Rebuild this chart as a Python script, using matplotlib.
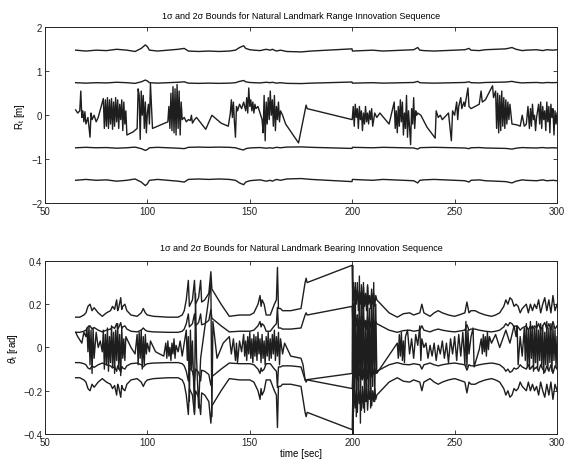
import matplotlib
matplotlib.use("Agg")
import matplotlib.pyplot as plt
import numpy as np

plt.rcParams["font.family"] = ["Liberation Sans", "DejaVu Sans"]
plt.rcParams["mathtext.fontset"] = "custom"
plt.rcParams["mathtext.rm"] = "Liberation Sans"
plt.rcParams["mathtext.it"] = "Liberation Sans:italic"

# range innovation (top panel)
range_t = [
    65.0, 66.0, 67.0, 67.5, 68.0, 68.5, 69.0, 69.5, 70.0, 71.0, 72.0, 72.5, 73.0, 74.0, 75.0, 76.0,
    78.5, 79.0, 79.5, 80.0, 80.5, 81.0, 81.5, 82.0, 82.5, 83.0, 83.5, 84.0, 84.5, 85.0, 85.5, 86.0,
    86.5, 87.0, 87.5, 88.0, 88.5, 89.0, 89.5, 90.0, 93.0, 95.0, 95.5, 96.0, 96.5, 97.0, 97.5, 98.0,
    98.5, 99.0, 99.5, 100.0, 100.5, 101.0, 101.5, 102.5, 110.0, 110.5, 111.0, 111.5, 112.0, 112.5,
    113.0, 113.5, 114.0, 114.5, 115.0, 115.5, 116.0, 116.5, 117.0, 118.0, 119.0, 120.0, 121.0, 121.5,
    122.0, 123.0, 124.0, 128.5, 131.5, 136.0, 139.5, 140.5, 141.0, 141.5, 142.0, 142.5, 143.0, 143.5,
    144.0, 145.0, 146.0, 147.0, 148.0, 148.5, 149.0, 149.5, 150.0, 150.5, 151.0, 151.5, 152.0, 152.5,
    153.0, 154.0, 155.0, 156.0, 156.5, 157.0, 157.5, 158.0, 158.5, 159.0, 159.5, 160.0, 160.5, 161.0,
    161.5, 162.0, 162.5, 163.0, 163.5, 164.0, 164.5, 165.0, 166.0, 167.5, 173.8, 176.5, 177.5, 178.0,
    200.0, 200.5, 201.0, 201.5, 202.0, 202.5, 203.0, 203.5, 204.0, 204.5, 205.0, 205.5, 206.0, 206.5,
    207.0, 207.5, 208.0, 208.5, 209.0, 209.5, 210.0, 211.0, 212.0, 213.5, 218.0, 220.5, 221.0, 221.5,
    222.0, 222.5, 223.0, 223.5, 224.0, 224.5, 225.0, 225.5, 226.0, 226.5, 227.0, 227.5, 228.5, 229.0,
    229.5, 230.0, 230.5, 231.0, 231.5, 232.0, 233.5, 236.5, 240.5, 241.0, 242.0, 243.0, 244.0, 245.0,
    246.0, 247.0, 248.4, 249.0, 250.0, 251.0, 251.5, 252.0, 253.0, 253.5, 254.5, 255.0, 256.5, 257.0,
    258.0, 260.0, 262.0, 262.9, 263.5, 265.0, 268.5, 269.0, 270.0, 270.5, 271.0, 271.5, 272.0, 272.5,
    273.0, 273.5, 274.0, 274.5, 275.0, 275.5, 276.0, 276.5, 277.0, 278.0, 280.5, 282.0, 283.0, 284.0,
    285.0, 285.8, 286.5, 287.0, 287.5, 288.0, 288.5, 289.0, 289.5, 290.0, 291.0, 291.5, 292.0, 292.5,
    293.0, 293.5, 294.0, 294.5, 295.0, 295.5, 296.0, 296.5, 297.0, 297.5, 298.0, 298.5, 299.0, 299.5,
    300.0,
]
range_innov = [
    0.12, 0.05, 0.10, 0.55, -0.05, 0.10, -0.15, 0.08, -0.20, -0.05, -0.50, 0.05, -0.10, 0.00, -0.15, -0.05,
    0.38, -0.30, 0.35, -0.25, 0.40, -0.30, 0.35, -0.20, 0.38, -0.32, 0.30, -0.25, 0.40, -0.15, 0.35, -0.30,
    0.25, -0.10, 0.35, -0.35, 0.30, -0.20, 0.10, -0.45, -0.38, -0.30, 0.60, 0.45, -0.55, 0.55, 0.00, 0.45,
    -0.30, 0.30, -0.40, 0.05, 0.25, -0.20, 0.72, -0.30, -0.15, 0.20, -0.30, 0.50, -0.35, 0.65,
    -0.40, 0.60, -0.45, 0.70, -0.30, 0.55, -0.45, 0.30, -0.10, -0.05, -0.15, -0.10, -0.12, 0.00,
    -0.18, -0.10, -0.05, -0.32, 0.00, -0.18, -0.25, 0.05, 0.35, -0.05, 0.30, -0.15, -0.50, 0.20,
    0.10, 0.25, 0.15, 0.30, 0.10, 0.40, 0.05, 0.62, 0.20, 0.35, 0.10, 0.30, 0.05, 0.25,
    0.15, 0.20, 0.05, -0.10, -0.40, 0.45, -0.58, 0.30, -0.20, 0.40, -0.10, 0.55, 0.00, 0.35,
    -0.25, 0.45, -0.35, 0.20, -0.10, 0.30, -0.15, 0.10, 0.00, -0.20, -0.63, 0.00, 0.23, 0.15,
    -0.10, 0.20, -0.25, 0.25, -0.05, 0.15, -0.30, 0.20, -0.10, 0.10, -0.35, 0.05, -0.20, 0.20,
    -0.15, 0.05, -0.20, 0.10, -0.10, 0.15, -0.25, 0.05, -0.05, 0.05, -0.20, 0.30, -0.30, 0.10,
    -0.40, 0.20, -0.25, 0.35, -0.15, 0.30, -0.45, 0.05, -0.30, 0.45, -0.50, 0.10, -0.67, 0.15,
    -0.20, 0.40, -0.30, 0.10, 0.00, 0.05, 0.00, -0.27, -0.52, 0.10, -0.05, 0.00, -0.10, -0.05,
    0.00, 0.05, -0.58, 0.10, 0.00, 0.30, -0.10, 0.20, 0.40, 0.15, 0.30, 0.20, 0.62, 0.20,
    0.15, 0.20, 0.25, 0.55, 0.30, 0.35, 0.67, 0.40, 0.55, -0.30, 0.50, -0.40, 0.45, -0.35,
    0.55, -0.25, 0.40, -0.30, 0.35, -0.20, 0.30, -0.10, 0.25, -0.20, -0.22, -0.25, 0.00, -0.25,
    -0.20, 0.20, -0.30, 0.15, -0.25, 0.25, -0.10, 0.00, -0.35, -0.05, 0.25, -0.20, 0.30, -0.30,
    0.20, -0.10, 0.10, -0.35, 0.30, -0.15, 0.20, -0.40, 0.25, -0.05, 0.15, -0.45, 0.10, -0.20,
    0.05,
]

# 1 sigma of range innovation
range_sig_t = [
    65, 70, 75, 80, 85, 90, 94, 97, 99, 100, 101, 105, 110, 115, 118, 120, 125, 130, 135, 140,
    143, 145, 147, 148, 150, 152, 155, 158, 160, 161, 163, 165, 168, 175, 180, 199.9, 200.1, 205,
    210, 215, 220, 225, 230, 232, 233, 235, 240, 245, 250, 255, 257, 258, 262, 265, 270, 275, 278,
    280, 283, 285, 290, 293, 295, 298, 300,
]
range_sig = [
    0.740, 0.730, 0.740, 0.735, 0.750, 0.740, 0.725, 0.760, 0.800, 0.780, 0.740, 0.730, 0.740,
    0.750, 0.760, 0.730, 0.725, 0.730, 0.725, 0.730, 0.740, 0.770, 0.790, 0.760, 0.745, 0.740,
    0.735, 0.750, 0.740, 0.750, 0.730, 0.740, 0.725, 0.720, 0.730, 0.755, 0.730, 0.735, 0.740,
    0.730, 0.735, 0.740, 0.745, 0.770, 0.740, 0.735, 0.730, 0.735, 0.740, 0.745, 0.760, 0.740,
    0.735, 0.745, 0.750, 0.755, 0.770, 0.750, 0.735, 0.740, 0.745, 0.735, 0.745, 0.740, 0.745,
]

# bearing innovation (bottom panel)
bear_t = [
    65.0, 66.0, 68.0, 69.0, 70.0, 70.5, 71.0, 71.5, 72.0, 72.5, 73.0, 73.5, 74.0, 75.0, 76.0, 77.0,
    78.0, 78.5, 79.0, 79.5, 80.0, 80.5, 81.0, 81.5, 82.0, 82.5, 83.0, 83.5, 84.0, 84.5, 85.0, 85.5,
    86.0, 86.5, 87.0, 87.5, 88.0, 88.5, 89.0, 89.5, 92.0, 94.0, 95.0, 95.5, 96.0, 96.5, 97.0, 97.5,
    98.0, 98.5, 99.0, 99.5, 100.0, 101.0, 101.5, 104.0, 108.0, 109.0, 109.5, 110.0, 110.5, 111.0,
    111.5, 112.0, 112.5, 113.0, 113.5, 114.0, 115.0, 116.0, 117.0, 118.0, 119.0, 119.5, 120.0, 120.5,
    121.0, 121.5, 122.0, 123.0, 123.5, 124.0, 125.0, 126.0, 131.0, 131.5, 132.0, 134.0, 137.0, 140.0,
    141.0, 142.0, 143.0, 143.5, 144.0, 145.0, 146.0, 147.0, 147.5, 148.0, 148.5, 149.0, 149.5, 150.0,
    150.5, 151.0, 151.5, 152.0, 152.5, 153.0, 153.5, 154.0, 154.5, 155.0, 155.5, 156.0, 156.5, 157.0,
    157.5, 158.0, 158.5, 159.0, 159.5, 160.0, 160.5, 161.0, 161.5, 162.0, 162.5, 163.0, 163.5, 164.0,
    164.5, 165.0, 166.0, 167.0, 170.0, 175.0, 176.0, 177.0, 200.0, 200.2, 200.4, 200.7, 201.0, 201.5,
    202.0, 202.5, 203.0, 203.5, 204.0, 204.5, 205.0, 205.5, 206.0, 206.5, 207.0, 207.5, 208.0, 208.5,
    209.0, 209.5, 210.0, 210.5, 211.0, 211.5, 212.0, 222.0, 222.5, 223.0, 223.5, 224.0, 224.5, 225.0,
    225.5, 226.0, 227.0, 228.0, 229.0, 230.0, 231.0, 232.0, 233.0, 233.5, 234.0, 235.0, 236.0, 237.0,
    238.0, 239.0, 240.0, 241.0, 242.0, 243.0, 244.0, 245.0, 246.0, 247.0, 248.0, 249.0, 250.0, 251.0,
    252.0, 253.0, 254.0, 255.0, 255.5, 256.0, 256.5, 257.0, 258.0, 259.0, 259.5, 262.0, 263.0, 263.5,
    264.0, 264.5, 265.0, 265.5, 266.0, 266.5, 267.0, 268.0, 270.0, 272.0, 275.0, 277.0, 279.0, 280.0,
    280.5, 281.0, 282.0, 283.0, 284.0, 284.5, 285.0, 285.5, 286.0, 286.5, 287.0, 287.5, 288.0, 288.5,
    289.0, 289.5, 290.0, 290.5, 291.0, 291.5, 292.0, 292.5, 293.0, 293.5, 294.0, 294.5, 295.0, 295.5,
    296.0, 296.5, 297.0, 297.5, 298.0, 298.5, 299.0, 299.5, 300.0,
]
bear_innov = [
    0.07, 0.05, 0.02, 0.07, 0.05, 0.09, -0.02, 0.10, -0.08, 0.08, -0.12, 0.09, -0.05, 0.07, 0.00, 0.03,
    -0.02, 0.08, -0.10, 0.06, -0.08, 0.09, -0.11, 0.05, -0.07, 0.10, -0.09, 0.07, -0.12, 0.08, -0.06, 0.11,
    -0.10, 0.06, -0.13, 0.09, -0.05, 0.04, -0.06, 0.05, 0.00, -0.03, 0.06, -0.08, 0.07, -0.05, 0.08, -0.10,
    0.05, -0.08, 0.06, -0.03, 0.02, -0.02, 0.03, -0.02, -0.04, 0.02, -0.05, 0.03, -0.04, 0.00,
    -0.06, 0.02, -0.03, 0.04, -0.05, 0.01, -0.02, 0.03, -0.04, 0.02, 0.08, -0.06, 0.05, -0.25,
    0.08, -0.10, 0.03, -0.30, 0.25, -0.05, -0.28, -0.05, 0.30, -0.32, 0.12, -0.05, 0.02, 0.05,
    -0.03, 0.04, -0.06, 0.02, -0.07, 0.03, -0.02, 0.06, -0.04, 0.03, -0.06, 0.05, -0.03, 0.07,
    -0.05, 0.04, -0.07, 0.06, -0.04, 0.05, -0.06, 0.07, -0.03, 0.04, -0.07, 0.06, -0.05, 0.03,
    -0.08, 0.05, -0.04, 0.07, -0.06, 0.04, -0.05, 0.06, -0.03, 0.08, -0.06, 0.05, -0.04, 0.07,
    -0.08, 0.04, -0.03, 0.02, -0.04, -0.05, -0.08, -0.15, -0.12, 0.38, -0.40, 0.20, -0.25, 0.30,
    -0.32, 0.15, -0.20, 0.33, -0.35, 0.25, -0.15, 0.30, -0.30, 0.10, -0.25, 0.28, -0.22, 0.18,
    -0.28, 0.25, -0.18, 0.30, -0.25, 0.20, -0.12, 0.02, -0.05, 0.06, -0.04, 0.07, -0.06, 0.03,
    -0.07, 0.05, 0.08, -0.03, 0.04, -0.05, 0.06, 0.01, 0.10, -0.06, 0.04, 0.00, 0.02, -0.05,
    0.01, -0.04, 0.02, -0.06, 0.01, -0.03, 0.03, -0.05, 0.02, -0.07, 0.04, -0.03, 0.05, -0.06,
    0.06, -0.04, 0.07, -0.08, 0.12, -0.09, 0.08, -0.03, 0.05, 0.09, -0.09, -0.01, 0.04, -0.03,
    0.06, -0.02, 0.05, -0.04, 0.07, -0.01, 0.05, 0.02, 0.06, 0.00, 0.08, 0.02, 0.10, 0.05,
    0.10, -0.08, 0.05, -0.04, 0.09, -0.06, 0.11, -0.09, 0.08, -0.10, 0.12, -0.05, 0.10, -0.11,
    0.09, -0.07, 0.12, -0.10, 0.08, -0.06, 0.11, -0.09, 0.10, -0.12, 0.07, -0.08, 0.12, -0.10,
    0.09, -0.07, 0.11, -0.11, 0.10, -0.06, 0.08, -0.09, 0.05,
]

# 1 sigma of bearing innovation
bear_sig_t = [
    65, 67, 69, 70, 71, 72, 73, 74, 76, 78, 80, 82, 83, 84, 85, 85.5, 86, 87, 87.5, 88, 89, 90,
    92, 95, 97, 98, 99, 100, 103, 110, 115, 117, 118, 119, 120, 120.5, 121, 122, 123, 123.5, 124,
    125, 126, 126.5, 128, 130, 131, 131.5, 136, 140, 145, 148, 150, 152, 154, 155, 155.5, 156, 157,
    158, 160, 162, 163, 163.5, 164, 165, 166, 170, 175, 176, 177, 177.5, 178, 200, 200.3, 200.6,
    201, 201.5, 202, 202.5, 203, 203.5, 204, 204.5, 205, 205.5, 206, 206.5, 207, 207.5, 208, 208.5,
    209, 209.5, 210, 210.5, 211, 211.5, 212, 215, 218, 222, 225, 228, 230, 233, 234, 235, 238, 240,
    242, 244, 247, 250, 252, 255, 256, 257, 258, 260, 262, 265, 268, 270, 272, 274, 275, 276, 277,
    278, 279, 280, 281, 282, 283, 285, 286, 287, 288, 289, 290, 291, 292, 293, 294, 295, 296, 297,
    298, 299, 300,
]
bear_sig = [
    0.070, 0.070, 0.075, 0.080, 0.095, 0.100, 0.085, 0.092, 0.080, 0.072, 0.080, 0.085, 0.095,
    0.088, 0.110, 0.085, 0.092, 0.115, 0.088, 0.095, 0.100, 0.085, 0.075, 0.072, 0.080, 0.090,
    0.080, 0.075, 0.072, 0.070, 0.070, 0.075, 0.085, 0.110, 0.155, 0.095, 0.100, 0.110, 0.155,
    0.100, 0.105, 0.115, 0.155, 0.105, 0.110, 0.125, 0.175, 0.135, 0.100, 0.072, 0.075, 0.075,
    0.075, 0.080, 0.100, 0.120, 0.095, 0.110, 0.100, 0.075, 0.075, 0.100, 0.110, 0.185, 0.090,
    0.090, 0.085, 0.085, 0.090, 0.120, 0.150, 0.160, 0.150, 0.190, 0.110, 0.150, 0.090, 0.140,
    0.100, 0.150, 0.085, 0.130, 0.100, 0.145, 0.090, 0.140, 0.095, 0.125, 0.085, 0.145, 0.100,
    0.120, 0.090, 0.135, 0.100, 0.125, 0.095, 0.120, 0.110, 0.095, 0.080, 0.070, 0.078, 0.080,
    0.075, 0.080, 0.100, 0.080, 0.072, 0.080, 0.085, 0.080, 0.075, 0.072, 0.075, 0.080, 0.105,
    0.080, 0.085, 0.085, 0.080, 0.075, 0.072, 0.075, 0.080, 0.095, 0.110, 0.100, 0.115, 0.110,
    0.095, 0.100, 0.095, 0.080, 0.090, 0.100, 0.080, 0.100, 0.085, 0.100, 0.090, 0.110, 0.080,
    0.100, 0.115, 0.085, 0.110, 0.080, 0.120, 0.085, 0.100,
]

x_ticks = [50, 100, 150, 200, 250, 300]
range_yticks = [-2, -1, 0, 1, 2]
range_yticklabels = ["\u22122", "\u22121", "0", "1", "2"]
bear_yticks = [-0.4, -0.2, 0, 0.2, 0.4]
bear_yticklabels = ["\u22120.4", "\u22120.2", "0", "0.2", "0.4"]

line_kw = dict(color="#1e1e1e", lw=1.0)


def style_axes(ax):
    ax.tick_params(direction="in", length=3, width=0.6, top=True, right=True,
                   labelsize=7, pad=2, colors="#222222")
    for s in ax.spines.values():
        s.set_linewidth(0.7)
        s.set_color("#222222")
    ax.set_xlim(50, 300)
    ax.set_xticks(x_ticks)


fig = plt.figure(figsize=(5.69, 4.64), dpi=100)
ax1 = fig.add_axes([0.079, 0.560, 0.900, 0.379])
ax2 = fig.add_axes([0.079, 0.0625, 0.900, 0.373])

rs = np.array(range_sig)
for sgn in (1, -1):
    ax1.plot(range_sig_t, sgn * rs, **line_kw)
    ax1.plot(range_sig_t, sgn * 2 * rs, **line_kw)
ax1.plot(range_t, range_innov, **line_kw)
style_axes(ax1)
ax1.set_ylim(-2, 2)
ax1.set_yticks(range_yticks)
ax1.set_yticklabels(range_yticklabels)
ax1.set_ylabel(r"R$_\mathregular{t}$ [m]", fontsize=7, labelpad=3)
ax1.set_title("1\u03c3 and 2\u03c3 Bounds for Natural Landmark Range Innovation Sequence",
              fontsize=6.5, pad=7)

bs = np.array(bear_sig)
for sgn in (1, -1):
    ax2.plot(bear_sig_t, sgn * bs, **line_kw)
    ax2.plot(bear_sig_t, sgn * 2 * bs, **line_kw)
ax2.plot(bear_t, bear_innov, **line_kw)
style_axes(ax2)
ax2.set_ylim(-0.4, 0.4)
ax2.set_yticks(bear_yticks)
ax2.set_yticklabels(bear_yticklabels)
ax2.set_ylabel(r"$\theta_\mathregular{t}$ [rad]", fontsize=7, labelpad=2)
ax2.set_xlabel("time [sec]", fontsize=7, labelpad=1)
ax2.set_title("1\u03c3 and 2\u03c3 Bounds for Natural Landmark Bearing Innovation Sequence",
              fontsize=6.5, pad=8)

fig.savefig("out.png", dpi=100)
